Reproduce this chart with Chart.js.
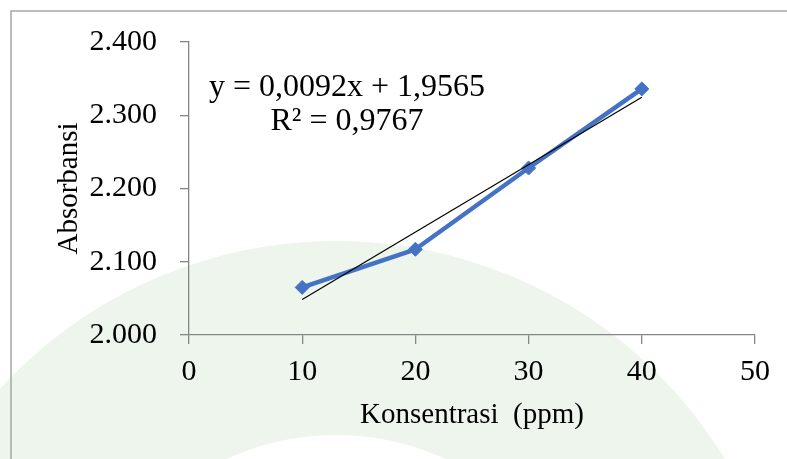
<!DOCTYPE html>
<html>
<head>
<meta charset="utf-8">
<script src="https://cdn.jsdelivr.net/npm/chart.js@4/dist/chart.umd.min.js"></script>
<style>
  body { margin: 0; background: #fff; }
  canvas { display: block; }
</style>
</head>
<body>
<canvas id="chart" width="787" height="459"></canvas>
<script>
// measured concentrations (ppm) and absorbance
const konsentrasi = [10, 20, 30, 40]
const absorbansi = [2.065, 2.117, 2.228, 2.336]

// linear trendline end points, y = 0,0092x + 1,9565
const trendX = [10, 40]
const trendY = [2.0485, 2.3245]

const xTicks = [0, 10, 20, 30, 40, 50]
const yTicks = [2.0, 2.1, 2.2, 2.3, 2.4]

const equationLines = ['y = 0,0092x + 1,9565', 'R\u00b2 = 0,9767']

const serif = 'Liberation Serif'
const axisGrey = '#868686'

const toPoints = (xs, ys) => xs.map((x, i) => ({ x: x, y: ys[i] }))

// faint watermark band + chart frame
const backdrop = {
    id: 'backdrop',
    beforeDraw: (chart) => {
        const ctx = chart.ctx
        ctx.save()
        ctx.fillStyle = '#ffffff'
        ctx.fillRect(0, 0, chart.width, chart.height)
        ctx.beginPath()
        ctx.arc(336, 697, 456, 0, Math.PI * 2)
        ctx.arc(336, 697, 262, 0, Math.PI * 2, true)
        ctx.fillStyle = 'rgba(205, 226, 205, 0.36)'
        ctx.fill('evenodd')
        ctx.restore()
    },
    afterDraw: (chart) => {
        const ctx = chart.ctx
        ctx.save()
        ctx.strokeStyle = '#a6a6a6'
        ctx.lineWidth = 1.5
        ctx.strokeRect(11, 11, chart.width + 20, chart.height + 20)
        ctx.restore()
    }
}

const equation = {
    id: 'equation',
    afterDatasetsDraw: (chart) => {
        const ctx = chart.ctx
        ctx.save()
        ctx.font = '32px "' + serif + '"'
        ctx.fillStyle = '#000'
        ctx.textAlign = 'center'
        ctx.textBaseline = 'middle'
        ctx.fillText(equationLines[0], 347, 88)
        ctx.fillText(equationLines[1], 347, 122)
        ctx.restore()
    }
}

const config = {
    type: 'scatter',
    data: {
        datasets: [{
            label: 'Linear (Absorbansi)',
            data: toPoints(trendX, trendY),
            showLine: true,
            borderColor: '#000',
            borderWidth: 1.2,
            pointRadius: 0,
            order: 0
        }, {
            label: 'Absorbansi',
            data: toPoints(konsentrasi, absorbansi),
            showLine: true,
            borderColor: '#4472C4',
            backgroundColor: '#4472C4',
            borderWidth: 4.5,
            borderJoinStyle: 'round',
            pointStyle: 'rectRot',
            pointRadius: 7,
            pointBorderWidth: 1,
            order: 1
        }]
    },
    options: {
        responsive: false,
        animation: false,
        devicePixelRatio: 1,
        layout: {
            padding: { left: 0, top: 42, right: 32, bottom: 0 }
        },
        scales: {
            x: {
                type: 'linear',
                position: 'bottom',
                min: 0,
                max: 50,
                afterBuildTicks: (scale) => { scale.ticks = xTicks.map(v => ({ value: v })) },
                afterFit: (scale) => { scale.height = 124 },
                ticks: {
                    color: '#000',
                    padding: 10,
                    font: { family: serif, size: 30 }
                },
                grid: { drawOnChartArea: false, tickLength: 9, color: axisGrey, lineWidth: 1.3 },
                border: { color: axisGrey, width: 1.3 },
                title: {
                    display: true,
                    text: 'Konsentrasi  (ppm)',
                    color: '#000',
                    font: { family: serif, size: 29 },
                    padding: { top: 0, bottom: 26 }
                }
            },
            y: {
                min: 2.0,
                max: 2.4,
                afterBuildTicks: (scale) => { scale.ticks = yTicks.map(v => ({ value: v })) },
                afterFit: (scale) => { scale.width = 189 },
                ticks: {
                    color: '#000',
                    padding: 23,
                    font: { family: serif, size: 30 },
                    callback: (v) => v.toFixed(3)
                },
                grid: { drawOnChartArea: false, tickLength: 9, color: axisGrey, lineWidth: 1.3 },
                border: { color: axisGrey, width: 1.3 },
                title: {
                    display: true,
                    text: 'Absorbansi',
                    color: '#000',
                    font: { family: serif, size: 29 },
                    padding: { top: 52, bottom: 0 }
                }
            }
        },
        plugins: {
            legend: { display: false },
            tooltip: { enabled: false }
        }
    },
    plugins: [backdrop, equation]
}

new Chart(document.getElementById('chart'), config)
</script>
</body>
</html>
